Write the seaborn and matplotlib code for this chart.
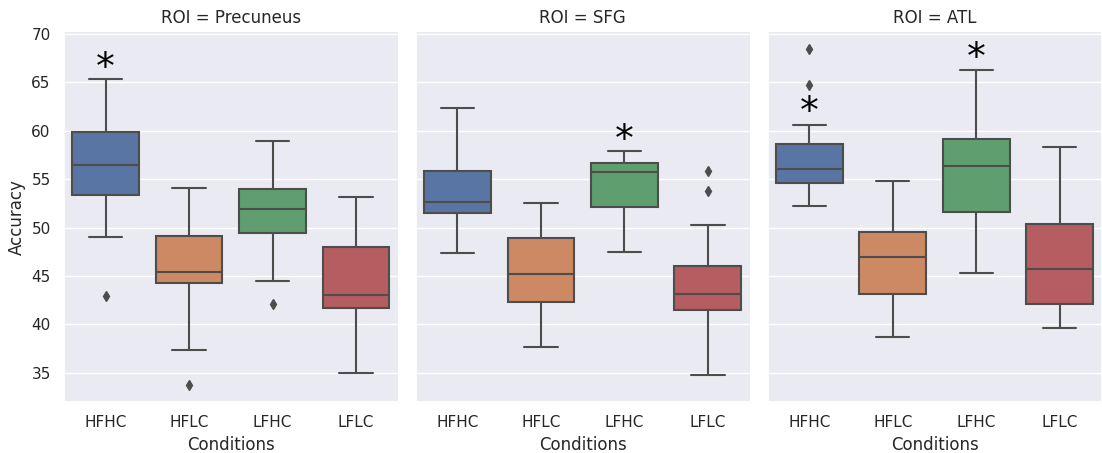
import pandas as pd
import numpy as np

import seaborn as sns
import matplotlib
matplotlib.use('Agg')
import matplotlib.pyplot as plt

rois = ['Precuneus', 'SFG', 'ATL']
conditions = ['HFHC', 'HFLC', 'LFHC', 'LFLC']

# observations per box (13 each), values read off the reference:
# whisker ends, quartiles, median and outliers
prec_hfhc = [42.9, 49.0, 49.0, 53.4, 53.4, 53.4, 56.5, 59.9, 59.9, 59.9, 65.4, 65.4, 65.4]
prec_hflc = [33.7, 37.4, 37.4, 44.3, 44.3, 44.3, 45.4, 49.1, 49.1, 49.1, 54.1, 54.1, 54.1]
prec_lfhc = [42.1, 44.5, 44.5, 49.4, 49.4, 49.4, 51.9, 54.0, 54.0, 54.0, 59.0, 59.0, 59.0]
prec_lflc = [35.0, 35.0, 35.0, 41.7, 41.7, 41.7, 43.0, 48.0, 48.0, 48.0, 53.2, 53.2, 53.2]

sfg_hfhc = [47.4, 47.4, 47.4, 51.5, 51.5, 51.5, 52.6, 55.9, 55.9, 55.9, 62.4, 62.4, 62.4]
sfg_hflc = [37.7, 37.7, 37.7, 42.3, 42.3, 42.3, 45.2, 48.9, 48.9, 48.9, 52.5, 52.5, 52.5]
sfg_lfhc = [47.5, 47.5, 47.5, 52.1, 52.1, 52.1, 55.75, 56.7, 56.7, 56.7, 57.9, 57.9, 57.9]
sfg_lflc = [34.8, 34.8, 34.8, 41.5, 41.5, 41.5, 43.15, 46.0, 46.0, 46.0, 50.3, 53.8, 55.85]

atl_hfhc = [52.2, 52.2, 52.2, 54.6, 54.6, 54.6, 56.1, 58.6, 58.6, 58.6, 60.6, 64.75, 68.5]
atl_hflc = [38.7, 38.7, 38.7, 43.1, 43.1, 43.1, 47.0, 49.5, 49.5, 49.5, 54.8, 54.8, 54.8]
atl_lfhc = [45.3, 45.3, 45.3, 51.6, 51.6, 51.6, 56.4, 59.2, 59.2, 59.2, 66.3, 66.3, 66.3]
atl_lflc = [39.6, 39.6, 39.6, 42.1, 42.1, 42.1, 45.7, 50.4, 50.4, 50.4, 58.35, 58.35, 58.35]

# significance stars: (roi, condition, y)
star_roi = ['Precuneus', 'SFG', 'ATL', 'ATL']
star_cond = ['HFHC', 'LFHC', 'HFHC', 'LFHC']
star_y = [66.4, 58.95, 61.8, 67.4]

boxes = {
    'Precuneus': [prec_hfhc, prec_hflc, prec_lfhc, prec_lflc],
    'SFG': [sfg_hfhc, sfg_hflc, sfg_lfhc, sfg_lflc],
    'ATL': [atl_hfhc, atl_hflc, atl_lfhc, atl_lflc],
}

rows = []
for roi in rois:
    for cond, vals in zip(conditions, boxes[roi]):
        for v in vals:
            rows.append({'ROI': roi, 'Conditions': cond, 'Accuracy': v})
df = pd.DataFrame(rows)

sns.set_theme(style='darkgrid')

g = sns.catplot(data=df, x='Conditions', y='Accuracy', col='ROI', hue='Conditions',
                kind='box', palette='deep', legend=False, saturation=0.75,
                linecolor='.3', linewidth=1.5, width=0.8,
                flierprops={'marker': 'd', 'markerfacecolor': '.3',
                            'markeredgecolor': '.3', 'markersize': 5},
                height=4.5, aspect=0.8)

for roi, ax in g.axes_dict.items():
    ax.set_title(f'ROI = {roi}')
    ax.set_yticks([35, 40, 45, 50, 55, 60, 65, 70])
    for r, c, y in zip(star_roi, star_cond, star_y):
        if r == roi:
            ax.text(conditions.index(c), y, '*', ha='center', va='center',
                    fontsize=27, color='black')

g.figure.set_size_inches(11.02, 4.53)
g.figure.subplots_adjust(left=0.058, right=0.9995, top=0.930, bottom=0.112, wspace=0.054)
g.figure.savefig('out.png', dpi=100)
